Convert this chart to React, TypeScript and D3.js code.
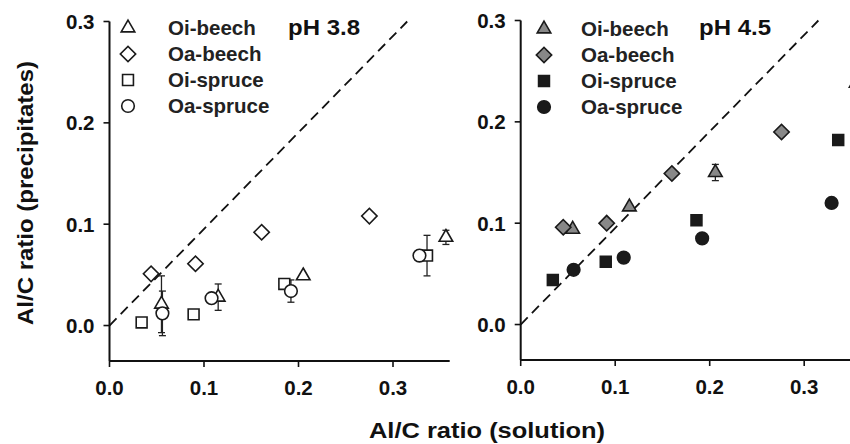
import React from "react";
import * as d3 from "d3";

type Pt = { x: number; y: number; e?: number };

// pH 3.8 panel
const ph38OiBeech: Pt[] = [
  { x: 0.055, y: 0.021, e: 0.028 },
  { x: 0.115, y: 0.028, e: 0.013 },
  { x: 0.205, y: 0.049 },
  { x: 0.356, y: 0.087, e: 0.007 },
];
const ph38OaBeech: Pt[] = [
  { x: 0.044, y: 0.051 },
  { x: 0.091, y: 0.061 },
  { x: 0.161, y: 0.092 },
  { x: 0.275, y: 0.108 },
];
const ph38OiSpruce: Pt[] = [
  { x: 0.034, y: 0.003 },
  { x: 0.089, y: 0.011 },
  { x: 0.185, y: 0.041 },
  { x: 0.336, y: 0.069, e: 0.02 },
];
const ph38OaSpruce: Pt[] = [
  { x: 0.056, y: 0.012, e: 0.022 },
  { x: 0.108, y: 0.027 },
  { x: 0.192, y: 0.034, e: 0.011 },
  { x: 0.328, y: 0.069 },
];

// pH 4.5 panel
const ph45OiBeech: Pt[] = [
  { x: 0.055, y: 0.094 },
  { x: 0.115, y: 0.116 },
  { x: 0.206, y: 0.15, e: 0.008 },
  { x: 0.355, y: 0.238 },
];
const ph45OaBeech: Pt[] = [
  { x: 0.045, y: 0.096 },
  { x: 0.091, y: 0.1 },
  { x: 0.16, y: 0.149 },
  { x: 0.276, y: 0.19 },
];
const ph45OiSpruce: Pt[] = [
  { x: 0.034, y: 0.044 },
  { x: 0.09, y: 0.062 },
  { x: 0.186, y: 0.103 },
  { x: 0.336, y: 0.182 },
];
const ph45OaSpruce: Pt[] = [
  { x: 0.056, y: 0.054 },
  { x: 0.109, y: 0.066 },
  { x: 0.192, y: 0.085 },
  { x: 0.329, y: 0.12 },
];

const seriesNames = ["Oi-beech", "Oa-beech", "Oi-spruce", "Oa-spruce"];
const tickValues = [0, 0.1, 0.2, 0.3];
const refLine: [number, number][] = [
  [0, 0],
  [0.315, 0.3],
];
const panelLabels = ["pH 3.8", "pH 4.5"];
const xTitle = "Al/C ratio (solution)";
const yTitle = "Al/C ratio (precipitates)";

const FONT = "'Liberation Sans', Arial, Helvetica, sans-serif";

const shapes = [
  d3.symbol().type(d3.symbolTriangle).size(80)(),
  d3.symbol().type(d3.symbolSquare).size(118)(),
  d3.symbol().type(d3.symbolSquare).size(118)(),
  d3.symbol().type(d3.symbolCircle).size(125)(),
];
const rot = [0, 45, 0, 0];

function Panel({
  axisX,
  axisTop,
  axisBottom,
  series,
  filled,
  label,
  labelX,
  legendMarkerX,
  legendTextX,
  legendY0,
}: {
  axisX: number;
  axisTop: number;
  axisBottom: number;
  series: Pt[][];
  filled: boolean;
  label: string;
  labelX: number;
  legendMarkerX: number;
  legendTextX: number;
  legendY0: number;
}) {
  const x = d3.scaleLinear().domain([0, 0.36]).range([axisX, axisX + 340.2]);
  const y = d3.scaleLinear().domain([-0.035, 0.3]).range([axisBottom, axisTop]);
  const fills = filled ? ["#888", "#888", "#1a1a1a", "#1a1a1a"] : ["#fff", "#fff", "#fff", "#fff"];
  const stroke = "#1a1a1a";
  const line = d3
    .line<[number, number]>()
    .x((d) => x(d[0]))
    .y((d) => y(d[1]));
  const order = [0, 1, 2, 3];
  return (
    <g>
      <path d={line(refLine) || ""} fill="none" stroke="#111" strokeWidth={1.8} strokeDasharray="10,6" />
      <line x1={axisX} x2={axisX} y1={axisTop} y2={axisBottom} stroke="#111" strokeWidth={2} />
      <line x1={axisX} x2={axisX + 340.2} y1={axisBottom} y2={axisBottom} stroke="#111" strokeWidth={2} />
      {tickValues.map((t) => (
        <g key={"y" + t}>
          <line x1={axisX - 6} x2={axisX} y1={y(t)} y2={y(t)} stroke="#111" strokeWidth={1.6} />
          <text
            x={axisX - 15}
            y={y(t)}
            dy="0.36em"
            textAnchor="end"
            fontFamily={FONT}
            fontWeight="bold"
            fontSize={20.5}
            fill="#111"
          >
            {t.toFixed(1)}
          </text>
        </g>
      ))}
      {tickValues.map((t) => (
        <g key={"x" + t}>
          <line x1={x(t)} x2={x(t)} y1={axisBottom} y2={axisBottom + 6} stroke="#111" strokeWidth={1.6} />
          <text
            x={x(t)}
            y={axisBottom + 34}
            textAnchor="middle"
            fontFamily={FONT}
            fontWeight="bold"
            fontSize={20.5}
            fill="#111"
          >
            {t.toFixed(1)}
          </text>
        </g>
      ))}
      {series.map((s, si) =>
        s
          .filter((p) => p.e)
          .map((p, i) => (
            <g key={"e" + si + "-" + i} stroke="#222" strokeWidth={1.3}>
              <line x1={x(p.x)} x2={x(p.x)} y1={y(p.y + (p.e as number))} y2={y(p.y - (p.e as number))} />
              <line x1={x(p.x) - 3.5} x2={x(p.x) + 3.5} y1={y(p.y + (p.e as number))} y2={y(p.y + (p.e as number))} />
              <line x1={x(p.x) - 3.5} x2={x(p.x) + 3.5} y1={y(p.y - (p.e as number))} y2={y(p.y - (p.e as number))} />
            </g>
          ))
      )}
      {order.map((si) =>
        series[si].map((p, i) => (
          <path
            key={"m" + si + "-" + i}
            d={shapes[si] || ""}
            transform={`translate(${x(p.x)},${y(p.y)}) rotate(${rot[si]})`}
            fill={fills[si]}
            stroke={stroke}
            strokeWidth={1.6}
          />
        ))
      )}
      {seriesNames.map((n, i) => (
        <g key={"l" + n}>
          <path
            d={shapes[i] || ""}
            transform={`translate(${legendMarkerX},${legendY0 + i * 26}) rotate(${rot[i]})`}
            fill={fills[i]}
            stroke={stroke}
            strokeWidth={1.6}
          />
          <text
            x={legendTextX}
            y={legendY0 + i * 26}
            dy="0.36em"
            fontFamily={FONT}
            fontWeight="bold"
            fontSize={20.5}
            fill="#222"
          >
            {n}
          </text>
        </g>
      ))}
      <text x={labelX} y={35} fontFamily={FONT} fontWeight="bold" fontSize={22} fill="#111" textLength={72} lengthAdjust="spacingAndGlyphs">
        {label}
      </text>
    </g>
  );
}

export default function App() {
  return (
    <svg
      width={850}
      height={444}
      style={{ position: "absolute", left: 0, top: 0, background: "#fff" }}
    >
      <rect width={850} height={444} fill="#fff" />
      <Panel
        axisX={109.5}
        axisTop={21.5}
        axisBottom={361}
        series={[ph38OiBeech, ph38OaBeech, ph38OiSpruce, ph38OaSpruce]}
        filled={false}
        label={panelLabels[0]}
        labelX={288}
        legendMarkerX={128}
        legendTextX={168}
        legendY0={28}
      />
      <Panel
        axisX={520.7}
        axisTop={20.5}
        axisBottom={360}
        series={[ph45OiBeech, ph45OaBeech, ph45OiSpruce, ph45OaSpruce]}
        filled={true}
        label={panelLabels[1]}
        labelX={699}
        legendMarkerX={544}
        legendTextX={581}
        legendY0={29}
      />
      <text
        x={487}
        y={438}
        textAnchor="middle"
        fontFamily={FONT}
        fontWeight="bold"
        fontSize={22}
        fill="#111"
        textLength={236}
        lengthAdjust="spacingAndGlyphs"
      >
        {xTitle}
      </text>
      <text
        transform="translate(33,193) rotate(-90)"
        textAnchor="middle"
        fontFamily={FONT}
        fontWeight="bold"
        fontSize={22}
        fill="#111"
        textLength={264}
        lengthAdjust="spacingAndGlyphs"
      >
        {yTitle}
      </text>
    </svg>
  );
}
